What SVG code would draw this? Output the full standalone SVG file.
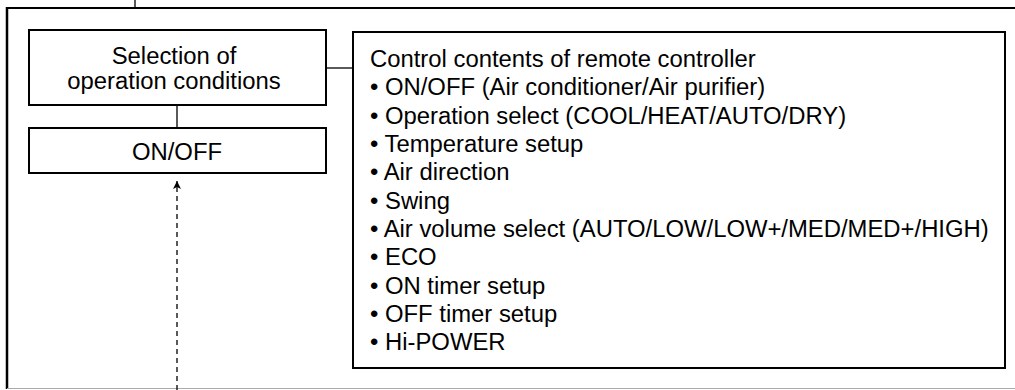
<svg xmlns="http://www.w3.org/2000/svg" width="1015" height="390" viewBox="0 0 1015 390">
<style>
.box{fill:#fff;stroke:#000;stroke-width:2}
.ln{stroke:#000;stroke-width:1.3;fill:none}
.t{font-family:"Liberation Sans",Arial,sans-serif;font-size:23.85px;fill:#000}
.c{text-anchor:middle}
</style>
<defs>
<marker id="ah" markerWidth="10" markerHeight="10" refX="8" refY="4" orient="auto" markerUnits="userSpaceOnUse">
<path d="M0,0 L8,4 L0,8 L2,4 Z" fill="#000"/>
</marker>
</defs>
<rect width="1015" height="390" fill="#fff"/>
<g id="frame">
<line x1="135" y1="0" x2="135" y2="8" class="ln"/>
<line x1="7" y1="8" x2="1015" y2="8" stroke="#000" stroke-width="2"/>
<line x1="7" y1="7" x2="7" y2="389" stroke="#000" stroke-width="2.5"/>
<line x1="7" y1="388.5" x2="1015" y2="388.5" stroke="#aaa" stroke-width="1"/>
</g>
<g id="connectors">
<line x1="177" y1="105" x2="177" y2="128" class="ln"/>
<line x1="326" y1="68" x2="353" y2="68" class="ln"/>
<line x1="177" y1="390" x2="177" y2="181" stroke="#000" stroke-width="1.3" stroke-dasharray="5,4" marker-end="url(#ah)"/>
</g>
<g id="selection">
<rect x="29" y="30" width="297" height="75" class="box"/>
<text class="t c" x="174" y="64">Selection of</text>
<text class="t c" x="174" y="89">operation conditions</text>
</g>
<g id="onoff">
<rect x="29" y="128" width="297" height="45" class="box"/>
<text class="t c" x="177" y="160">ON/OFF</text>
</g>
<g id="contents">
<rect x="353" y="32" width="652" height="336" class="box"/>
<text class="t" x="370" y="67">Control contents of remote controller</text>
<text class="t" x="370" y="95">• ON/OFF (Air conditioner/Air purifier)</text>
<text class="t" x="370" y="123.5">• Operation select (COOL/HEAT/AUTO/DRY)</text>
<text class="t" x="370" y="152">• Temperature setup</text>
<text class="t" x="370" y="180">• Air direction</text>
<text class="t" x="370" y="208.5">• Swing</text>
<text class="t" x="370" y="237">• Air volume select (AUTO/LOW/LOW+/MED/MED+/HIGH)</text>
<text class="t" x="370" y="265">• ECO</text>
<text class="t" x="370" y="293.5">• ON timer setup</text>
<text class="t" x="370" y="322">• OFF timer setup</text>
<text class="t" x="370" y="350">• Hi-POWER</text>
</g>
</svg>
